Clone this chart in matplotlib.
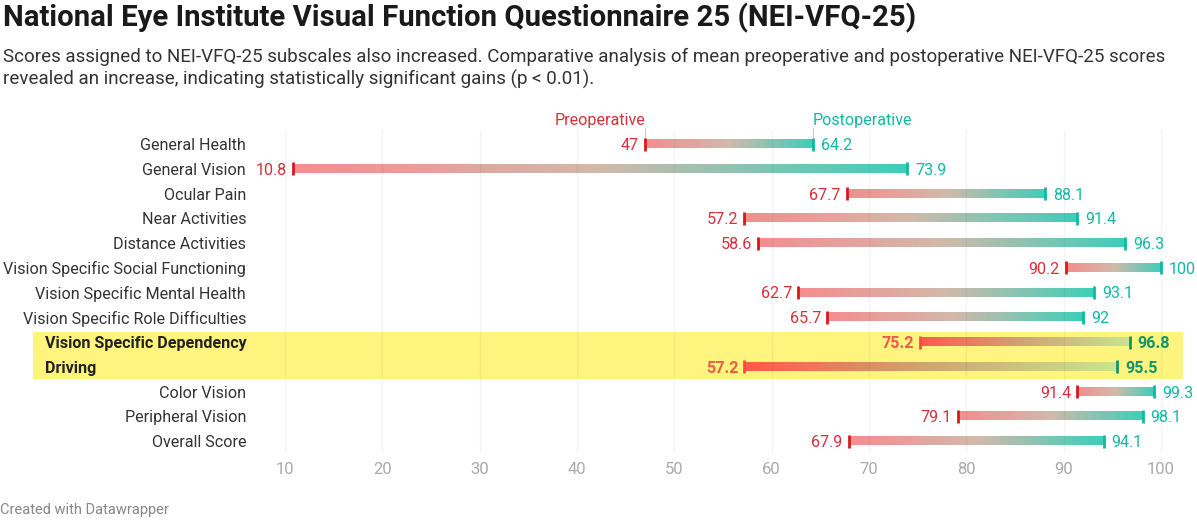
import numpy as np
import matplotlib.pyplot as plt
from matplotlib.colors import LinearSegmentedColormap

categories = ['General Health', 'General Vision', 'Ocular Pain', 'Near Activities',
              'Distance Activities', 'Vision Specific Social Functioning',
              'Vision Specific Mental Health', 'Vision Specific Role Difficulties',
              'Vision Specific Dependency', 'Driving', 'Color Vision',
              'Peripheral Vision', 'Overall Score']
preop = [47, 10.8, 67.7, 57.2, 58.6, 90.2, 62.7, 65.7, 75.2, 57.2, 91.4, 79.1, 67.9]
postop = [64.2, 73.9, 88.1, 91.4, 96.3, 100, 93.1, 92, 96.8, 95.5, 99.3, 98.1, 94.1]
highlighted = ['Vision Specific Dependency', 'Driving']
ticks = [10, 20, 30, 40, 50, 60, 70, 80, 90, 100]

plt.rcParams['font.family'] = ['Roboto', 'DejaVu Sans']

W, H = 1197, 520
fig = plt.figure(figsize=(W / 100, H / 100), dpi=100)
ax = fig.add_axes([0, 0, 1, 1])

# pixel layout: value 10 at x=285px, 100 at x=1161px; row 0 at y=144px, 24.75px apart
x0, x1 = 285, 1161
unit = (x1 - x0) / 90.0
y0, dy = 144, 24.75

def px2v(px):
    return 10 + (px - x0) / unit

def py2r(py):
    return (py - y0) / dy

ax.set_xlim(px2v(0), px2v(W))
ax.set_ylim(py2r(H), py2r(0))
ax.axis('off')

RED = '#d62f3a'
TEAL = '#12b8a2'
FS = 11.6
TY = -1.5  # small downward nudge for text, pixels
cmap_norm = LinearSegmentedColormap.from_list('n', ['#f58d8f', '#d2b9aa', '#3bcfba'])
cmap_hi = LinearSegmentedColormap.from_list('h', ['#ff5a4c', '#cfa576', '#c8e58e'])
grad = np.linspace(0, 1, 256).reshape(1, -1)

# highlight box
ax.add_patch(plt.Rectangle((px2v(33), py2r(332)), px2v(1183) - px2v(33),
                           py2r(379) - py2r(332), color='#fff47e', zorder=0, lw=0))

# grid (faint, drawn over the bars)
for t in ticks:
    ax.plot([t, t], [py2r(130), py2r(452)], color='#000000', alpha=0.045, lw=1, zorder=2.5)

for i, (cat, a, b) in enumerate(zip(categories, preop, postop)):
    hi = cat in highlighted
    cm = cmap_hi if hi else cmap_norm
    hb = 4.2 / dy
    ax.imshow(grad, cmap=cm, aspect='auto', extent=(a, b, i + hb, i - hb), zorder=2,
              interpolation='bicubic')
    th = 6.5 / dy
    ax.plot([a, a], [i - th, i + th], color='#ff4a3d' if hi else '#d7191c', lw=2,
            solid_capstyle='butt', zorder=3)
    ax.plot([b, b], [i - th, i + th], color='#13936b' if hi else TEAL, lw=2,
            solid_capstyle='butt', zorder=3)
    wt = 'bold' if hi else 'normal'
    ax.annotate(f'{a:g}', (a, i), xytext=(-6, TY), textcoords='offset pixels',
                ha='right', va='center', fontsize=FS, color='#f05a48' if hi else RED,
                fontweight=wt, zorder=4)
    ax.annotate(f'{b:g}', (b, i), xytext=(8, TY), textcoords='offset pixels',
                ha='left', va='center', fontsize=FS, color='#13936b' if hi else TEAL,
                fontweight=wt, zorder=4)
    if hi:
        ax.annotate(cat, (px2v(45), i), xytext=(0, TY), textcoords='offset pixels',
                    ha='left', va='center', fontsize=FS, fontweight='bold', color='#222222')
    else:
        ax.annotate(cat, (px2v(246), i), xytext=(0, TY), textcoords='offset pixels',
                    ha='right', va='center', fontsize=FS, color='#333333')

# series labels above the first row
ax.text(preop[0], py2r(120), 'Preoperative', ha='right', va='center', fontsize=FS, color=RED)
ax.text(postop[0], py2r(120), 'Postoperative', ha='left', va='center', fontsize=FS, color=TEAL)
ax.plot([preop[0], preop[0]], [py2r(128), py2r(139)], color='#cccccc', lw=0.8)
ax.plot([postop[0], postop[0]], [py2r(128), py2r(139)], color='#cccccc', lw=0.8)

# x tick labels
for t in ticks:
    ax.text(t, py2r(470), str(t), ha='center', va='center', fontsize=12,
            color='#aaaaaa')

fig.text(3 / W, 1 - 18 / H, 'National Eye Institute Visual Function Questionnaire 25 (NEI-VFQ-25)',
         ha='left', va='center', fontsize=21.2, fontweight='bold', color='#1a1a1a')
fig.text(3 / W, 1 - 57 / H,
         'Scores assigned to NEI-VFQ-25 subscales also increased. Comparative analysis of mean preoperative and postoperative NEI-VFQ-25 scores',
         ha='left', va='center', fontsize=13.5, color='#333333')
fig.text(3 / W, 1 - 79 / H,
         'revealed an increase, indicating statistically significant gains (p < 0.01).',
         ha='left', va='center', fontsize=13.5, color='#333333')
fig.text(0 / W, 1 - 510 / H, 'Created with Datawrapper', ha='left', va='center',
         fontsize=10.5, color='#888888')

fig.savefig('out.png', dpi=100)
